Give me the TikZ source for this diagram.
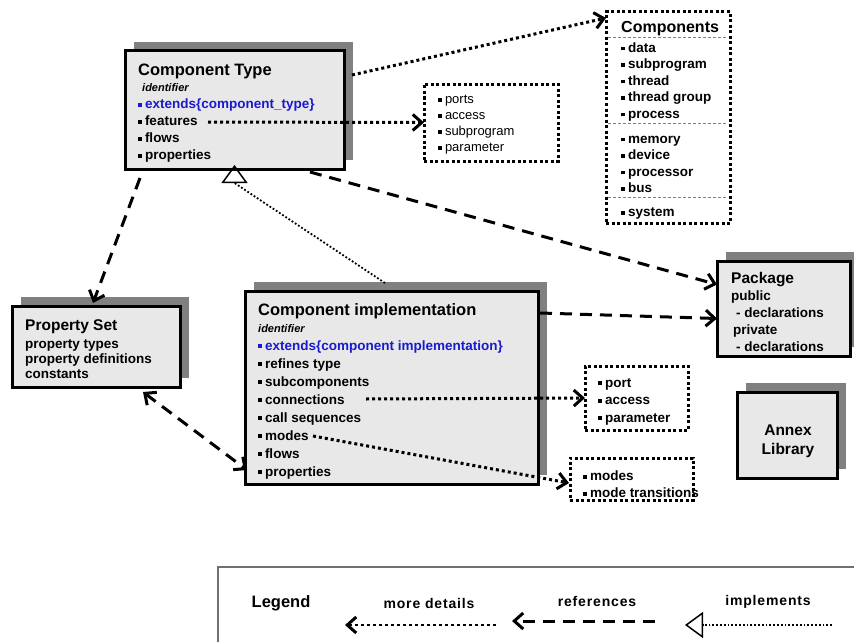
\documentclass[tikz,border=0pt]{standalone}
\usepackage{fontspec}
\setmainfont{Liberation Sans}
\usetikzlibrary{arrows.meta, shadows}

\definecolor{boxgray}{HTML}{E8E8E8}
\definecolor{shadegray}{HTML}{808080}
\definecolor{extblue}{HTML}{1A1ACC}
\definecolor{legendgray}{HTML}{707070}

\newcommand{\ttl}{\fontsize{16.5}{19}\selectfont\bfseries}
\newcommand{\body}{\fontsize{13.5}{17}\selectfont\bfseries}
\newcommand{\idf}{\fontsize{11}{13}\selectfont\bfseries\itshape}
\newcommand{\lgd}{\fontsize{14}{16}\selectfont\bfseries\addfontfeature{LetterSpace=6}}
\newcommand{\bul}{\rule[2pt]{3.8pt}{3.8pt}\hspace{3pt}}

\begin{document}
\begin{tikzpicture}[
        x=1pt, y=-1pt,
        chev/.tip={Straight Barb[length=9pt, width=16pt, line width=3pt]},
        panel/.style={draw, line width=3pt, fill=boxgray, general shadow={fill=shadegray, shadow xshift=9pt, shadow yshift=9pt}, anchor=north west, inner sep=0pt, outer sep=0pt},
        listbox/.style={draw, line width=3pt, dash pattern=on 3pt off 2.5pt, anchor=north west, inner sep=0pt, outer sep=0pt},
        txt/.style={anchor=north west, inner sep=0pt, align=left, font=\body},
        sepline/.style={gray, line width=0.8pt, dash pattern=on 3pt off 2pt},
        detailline/.style={line width=3pt, dash pattern=on 3pt off 3pt, -chev},
        refline/.style={line width=3pt, dash pattern=on 12pt off 8pt, -chev},
        implline/.style={line width=1.8pt, dash pattern=on 1.8pt off 2pt, -{Triangle[open, length=18pt, width=26pt, line width=1.5pt]}}
    ]
        \useasboundingbox (0,0) rectangle (854,642);
        \fill[white] (0,0) rectangle (854,642);

        % Boxes
        \node[panel, minimum width=219, minimum height=118] (ctype) at (125,51) {};
        \node[panel, minimum width=293, minimum height=193] (ci) at (245,291) {};
        \node[panel, minimum width=168, minimum height=81] (pset) at (12,306) {};
        \node[panel, minimum width=133, minimum height=95] (pkg) at (717,261) {};
        \node[panel, minimum width=100, minimum height=86] (annex) at (737,392) {};
        \node[listbox, minimum width=124, minimum height=211] (comps) at (606,12) {};
        \node[listbox, minimum width=134, minimum height=77] (ports) at (424,84) {};
        \node[listbox, minimum width=103, minimum height=64] (port) at (585,366) {};
        \node[listbox, minimum width=123, minimum height=42] (mbox) at (570,458) {};

        % Texts
        \node[txt] (ctypetxt) at (138,64) {{\ttl Component Type}\\[-1pt]
            \hspace{4pt}{\idf identifier}\\
            {\color{extblue}\bul extends\{component\_type\}}\\
            \bul features\\ \bul flows\\ \bul properties};
        \node[txt, font=\fontsize{13.5}{18}\selectfont\bfseries] (citxt) at (258,303) {{\ttl Component implementation}\\[-1pt]
            {\idf identifier}\\
            {\color{extblue}\bul extends\{component implementation\}}\\
            \bul refines type\\ \bul subcomponents\\ \bul connections\\
            \bul call sequences\\ \bul modes\\ \bul flows\\ \bul properties};
        \node[txt, font=\fontsize{13.5}{15}\selectfont\bfseries] (psettxt) at (25,319) {{\fontsize{15.5}{17}\selectfont Property Set}\\[3pt]
            property types\\ property definitions\\ constants};
        \node[txt] (pkgtxt) at (731,272) {{\fontsize{15.5}{17}\selectfont Package}\\
            public\\ \hspace{5pt}- declarations\\ \hspace{2pt}private\\ \hspace{5pt}- declarations};
        \node[font=\fontsize{15.5}{19}\selectfont\bfseries, align=center] (annextxt) at (788,441) {Annex\\Library};
        \node[txt, font=\fontsize{13.5}{16.5}\selectfont\bfseries] (compstxt) at (621,21) {{\fontsize{16}{17}\selectfont Components}\\[3.5pt]
            \bul data\\ \bul subprogram\\ \bul thread\\ \bul thread group\\ \bul process\\[8.5pt]
            \bul memory\\ \bul device\\ \bul processor\\ \bul bus\\[7.5pt] \bul system};
        \node[txt, font=\fontsize{13}{16}\selectfont] (portstxt) at (438,95) {\bul ports\\ \bul access\\ \bul subprogram\\ \bul parameter};
        \node[txt, font=\fontsize{13.5}{17.5}\selectfont\bfseries] (porttxt) at (598,378) {\bul port\\ \bul access\\ \bul parameter};
        \node[txt] (mboxtxt) at (583,471) {\bul modes\\ \bul mode transitions};

        % Separators
        \draw[sepline] ([shift={(2,25)}]comps.north west) -- ([shift={(-2,25)}]comps.north east);
        \draw[sepline] ([shift={(2,111)}]comps.north west) -- ([shift={(-2,111)}]comps.north east);
        \draw[sepline] ([shift={(2,185)}]comps.north west) -- ([shift={(-2,185)}]comps.north east);

        % Arrows
        \coordinate (feat) at (208,122);
        \coordinate (conn) at (366,399);
        \coordinate (mds) at (313,436);
        \draw[detailline] ([shift={(8,24)}]ctype.north east) -- ([shift={(0,6)}]comps.north west);
        \draw[detailline] (feat) -- (ports.west);
        \draw[detailline] (conn) -- (port.west);
        \draw[detailline] (mds) -- ([shift={(-1,4)}]mbox.west);
        \draw[refline] ([shift={(15,9)}]ctype.south west) -- ([shift={(-3,-3)}]pset.north);
        \draw[refline] ([shift={(-34,3)}]ctype.south east) -- ([shift={(0,-24)}]pkg.west);
        \draw[refline] ([shift={(2,22)}]ci.north east) -- ([shift={(0,10)}]pkg.west);
        \draw[refline, chev-chev] ([shift={(-37,5)}]pset.south east) -- ([shift={(2,-14)}]ci.south west);
        \draw[implline] ([shift={(140,-8)}]ci.north west) -- ([shift={(0,14)}]ctype.south) -- ([shift={(0,-4)}]ctype.south);

        % Legend
        \draw[legendgray, line width=2pt] (860,567) -- (218,567) -- (218,650);
        \node[font=\ttl] (legend) at (281,603) {Legend};
        \node[font=\lgd] (moredet) at (429,603) {more details};
        \node[font=\lgd] (refs) at (597,601) {references};
        \node[font=\lgd] (impls) at (768,602) {implements};
        \coordinate (detA) at (496,625);
        \coordinate (detB) at (345,625);
        \coordinate (refA) at (655,621);
        \coordinate (refB) at (512,621);
        \coordinate (impA) at (832,625);
        \coordinate (impB) at (685,625);
        \draw[detailline, line width=2.5pt] (detA) -- (detB);
        \draw[refline] (refA) -- (refB);
        \draw[implline] (impA) -- (impB);
\end{tikzpicture}
\end{document}
